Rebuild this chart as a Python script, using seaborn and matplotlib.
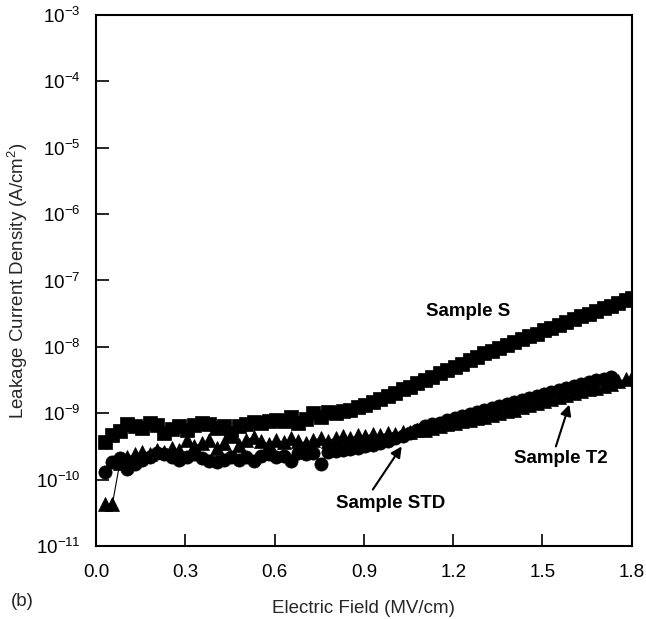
import numpy as np
import pandas as pd
import matplotlib
matplotlib.use("Agg")
import matplotlib.pyplot as plt
import matplotlib.ticker as mticker
import seaborn as sns

# Electric field (MV/cm)
field = [0.030, 0.055, 0.080, 0.105, 0.130, 0.155, 0.180, 0.205, 0.230, 0.255,
         0.280, 0.305, 0.330, 0.355, 0.380, 0.405, 0.430, 0.455, 0.480, 0.505,
         0.530, 0.555, 0.580, 0.605, 0.630, 0.655, 0.680, 0.705, 0.730, 0.755,
         0.780, 0.805, 0.830, 0.855, 0.880, 0.905, 0.930, 0.955, 0.980, 1.005,
         1.030, 1.055, 1.080, 1.105, 1.130, 1.155, 1.180, 1.205, 1.230, 1.255,
         1.280, 1.305, 1.330, 1.355, 1.380, 1.405, 1.430, 1.455, 1.480, 1.505,
         1.530, 1.555, 1.580, 1.605, 1.630, 1.655, 1.680, 1.705, 1.730, 1.755,
         1.780, 1.800]

# log10 of leakage current density (A/cm^2)
sample_s_log = [-9.43, -9.33, -9.27, -9.17, -9.20, -9.22, -9.15, -9.18, -9.30, -9.24,
                -9.20, -9.26, -9.18, -9.15, -9.17, -9.22, -9.20, -9.30, -9.20, -9.16,
                -9.13, -9.15, -9.12, -9.10, -9.12, -9.06, -9.15, -9.08, -9.00, -9.05,
                -8.98, -9.00, -8.97, -8.95, -8.91, -8.87, -8.83, -8.78, -8.74, -8.69,
                -8.64, -8.60, -8.55, -8.50, -8.45, -8.40, -8.35, -8.31, -8.26, -8.20,
                -8.15, -8.10, -8.06, -8.01, -7.97, -7.93, -7.88, -7.84, -7.80, -7.75,
                -7.71, -7.67, -7.62, -7.58, -7.54, -7.50, -7.46, -7.42, -7.38, -7.34,
                -7.30, -7.26]

sample_std_log = [-9.88, -9.74, -9.68, -9.84, -9.76, -9.70, -9.66, -9.60, -9.62, -9.66,
                  -9.70, -9.66, -9.62, -9.68, -9.72, -9.74, -9.70, -9.66, -9.70, -9.66,
                  -9.72, -9.64, -9.62, -9.66, -9.64, -9.72, -9.60, -9.62, -9.60, -9.76,
                  -9.58, -9.57, -9.56, -9.54, -9.52, -9.50, -9.48, -9.45, -9.42, -9.38,
                  -9.34, -9.30, -9.25, -9.20, -9.17, -9.14, -9.10, -9.07, -9.04, -9.01,
                  -8.98, -8.95, -8.92, -8.89, -8.86, -8.83, -8.80, -8.77, -8.74, -8.71,
                  -8.68, -8.65, -8.62, -8.59, -8.56, -8.53, -8.50, -8.48, -8.46]

sample_t2_log = [-10.37, -10.37, -9.75, -9.66, -9.62, -9.58, -9.62, -9.55, -9.58, -9.52,
                 -9.56, -9.40, -9.50, -9.45, -9.40, -9.52, -9.45, -9.35, -9.48, -9.40,
                 -9.36, -9.42, -9.46, -9.40, -9.44, -9.38, -9.42, -9.45, -9.40, -9.38,
                 -9.42, -9.37, -9.35, -9.38, -9.33, -9.35, -9.31, -9.33, -9.30, -9.32,
                 -9.28, -9.29, -9.26, -9.25, -9.22, -9.20, -9.17, -9.15, -9.12, -9.10,
                 -9.07, -9.05, -9.02, -9.00, -8.97, -8.95, -8.90, -8.87, -8.84, -8.81,
                 -8.78, -8.75, -8.72, -8.69, -8.66, -8.64, -8.62, -8.59, -8.56, -8.52,
                 -8.49, -8.46]

x_ticks = [0.0, 0.3, 0.6, 0.9, 1.2, 1.5, 1.8]
y_exponents = [-11, -10, -9, -8, -7, -6, -5, -4, -3]

sns.set_style("ticks")
plt.rcParams["font.family"] = ["Liberation Sans", "DejaVu Sans"]
plt.rcParams["mathtext.fontset"] = "custom"
plt.rcParams["mathtext.rm"] = "Liberation Sans"
plt.rcParams["mathtext.it"] = "Liberation Sans:italic"
plt.rcParams["mathtext.bf"] = "Liberation Sans:bold"

fig = plt.figure(figsize=(6.46, 6.19), dpi=100)
ax = fig.add_axes([0.1486, 0.118, 0.8294, 0.8578])

def series(logs, name):
    n = len(logs)
    return pd.DataFrame({"E": field[:n], "J": 10.0 ** np.array(logs), "s": name})

df_s = series(sample_s_log, "S")
df_std = series(sample_std_log, "STD")
df_t2 = series(sample_t2_log, "T2")

common = dict(color="black", linewidth=0.8, markeredgecolor="black",
              markeredgewidth=0.5, ax=ax, sort=False, estimator=None)
sns.lineplot(data=df_s, x="E", y="J", marker="s", markersize=9.5, **common)
sns.lineplot(data=df_std, x="E", y="J", marker="o", markersize=9.5, **common)
sns.lineplot(data=df_t2, x="E", y="J", marker="^", markersize=10, **common)

ax.set_yscale("log")
ax.set_xlim(0.0, 1.8)
ax.set_ylim(1e-11, 1e-3)
ax.set_xticks(x_ticks)
ax.set_xticklabels([f"{t:.1f}" for t in x_ticks])
ax.set_yticks([10.0 ** e for e in y_exponents])
ax.set_yticklabels([rf"$10^{{{e}}}$" for e in y_exponents])
ax.yaxis.set_minor_locator(mticker.NullLocator())

ax.tick_params(axis="both", which="major", direction="in", length=9, width=1.2,
               labelsize=13.5, colors="black")
ax.tick_params(axis="x", pad=13)
ax.tick_params(axis="y", pad=11)
for sp in ax.spines.values():
    sp.set_linewidth(1.5)
    sp.set_color("black")

ax.set_xlabel("Electric Field (MV/cm)", fontsize=13.5, labelpad=14)
ax.set_ylabel("Leakage Current Density (A/cm$^2$)", fontsize=13.5, labelpad=4)

bold = dict(fontsize=13.5, fontweight="bold", color="black")
arrow = dict(arrowstyle="-|>", color="black", lw=1.5, mutation_scale=16,
             shrinkA=0, shrinkB=0)

ax.text(1.25, 10 ** -7.47, "Sample S", ha="center", va="center", **bold)

ax.text(1.56, 10 ** -9.68, "Sample T2", ha="center", va="center", **bold)
ax.annotate("", xy=(1.59, 10 ** -8.87), xytext=(1.545, 10 ** -9.50),
            arrowprops=arrow)

ax.text(0.99, 10 ** -10.36, "Sample STD", ha="center", va="center", **bold)
ax.annotate("", xy=(1.027, 10 ** -9.50), xytext=(0.93, 10 ** -10.15),
            arrowprops=arrow)

fig.text(0.017, 0.014, "(b)", fontsize=13.5, ha="left", va="bottom")

fig.savefig("out.png", dpi=100)
